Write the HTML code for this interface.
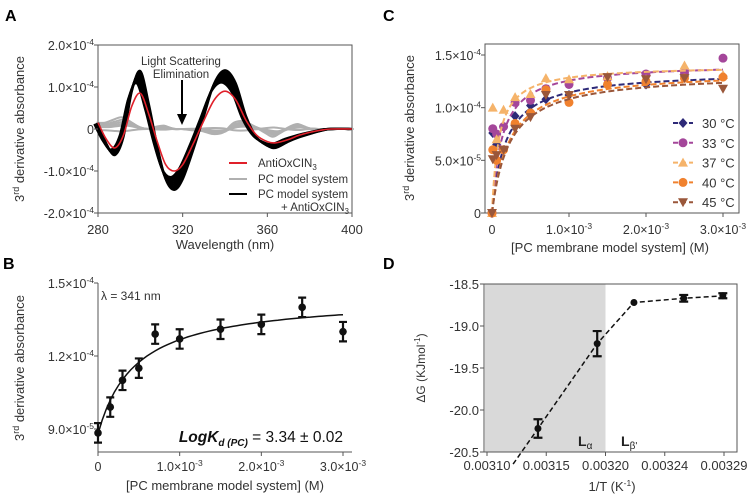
<!DOCTYPE html>
<html><head><meta charset="utf-8"><style>
body{margin:0;background:#fff;}
svg{display:block;font-family:"Liberation Sans",Arial,sans-serif;}
</style></head><body>
<svg id="fig" width="753" height="500" viewBox="0 0 753 500">
<g font-weight="bold" font-size="16">
<text x="5" y="21">A</text>
<text x="383" y="21">C</text>
<text x="3" y="269">B</text>
<text x="383" y="269">D</text>
</g>
<g id="pA"></g>
<g id="pB"></g>
<g id="pC"></g>
<g id="pD"></g>
</svg>
<script>
// ---------- Panel A data ----------
const aWl = [280,284,288,292,296,300,304,308,312,316,320,325,330,335,340,345,350,355,360,364,370,375,380,385,390,400];
const aBlack = [0.15,-0.35,-0.62,-0.2,0.9,1.38,0.6,-0.4,-1.2,-1.45,-1.2,-0.5,0.3,1.1,1.4,1.1,0.3,-0.2,-0.4,-0.45,-0.3,-0.2,-0.12,-0.05,0,0];
const aBlackScales = [1.0,0.97,0.94,0.91,0.88,0.85,0.82,0.79];
const aRed = [0.15,-0.25,-0.45,-0.15,0.55,0.85,0.35,-0.3,-0.85,-1.0,-0.85,-0.35,0.2,0.7,0.9,0.7,0.2,-0.15,-0.3,-0.33,-0.25,-0.15,-0.08,-0.03,0,0];
const aGray = [0.15,0.15,0.22,0.28,0.18,0.05,0,0.05,0.08,0,0,-0.03,-0.05,-0.12,-0.08,0.15,0.18,0.05,-0.1,-0.18,0.02,0.12,0.02,0,0,0];
const aGrayScales = [1.0,0.6,0.3,-0.2,0.8,0.45];
const aYTicks = [-2,-1,0,1,2];
const aYTickLabels = ["-2.0×10","-1.0×10","0","1.0×10","2.0×10"];
const aXTicks = [280,320,360,400];
// ---------- Panel B data ----------
const bX = [0,1.5e-4,3e-4,5e-4,7e-4,1e-3,1.5e-3,2e-3,2.5e-3,3e-3];
const bY = [8.84e-5,9.9e-5,1.1e-4,1.15e-4,1.29e-4,1.27e-4,1.31e-4,1.33e-4,1.40e-4,1.30e-4];
const bErr = [4e-6,4e-6,4e-6,4e-6,4e-6,4e-6,4e-6,4e-6,4e-6,4e-6];
const bFit = [8.8e-5,5.65e-5,4.6e-4]; // y0, Bmax, Kd
const bYTicks = [9e-5,1.2e-4,1.5e-4];
const bYTickLabels = ["9.0×10","1.2×10","1.5×10"];
const bYExp = ["-5","-4","-4"];
const xTicksM = [0,1e-3,2e-3,3e-3];
const xTickLabelsM = ["0","1.0×10","2.0×10","3.0×10"];
// ---------- Panel C data ----------
const cX = [0,1e-5,6e-5,1.5e-4,3e-4,5e-4,7e-4,1e-3,1.5e-3,2e-3,2.5e-3,3e-3];
const cNames = ["30 °C","33 °C","37 °C","40 °C","45 °C"];
const c30 = [0,7.6e-5,6.5e-5,8.2e-5,9.2e-5,1.02e-4,1.08e-4,1.12e-4,1.22e-4,1.22e-4,1.30e-4,1.30e-4];
const c33 = [0,8.0e-5,7.5e-5,8.2e-5,1.05e-4,1.07e-4,1.18e-4,1.22e-4,1.28e-4,1.32e-4,1.33e-4,1.47e-4];
const c37 = [0,1.0e-4,7.0e-5,9.8e-5,1.1e-4,1.13e-4,1.28e-4,1.27e-4,1.30e-4,1.27e-4,1.40e-4,1.31e-4];
const c40 = [0,6.0e-5,5.0e-5,6.0e-5,8.5e-5,9.5e-5,1.17e-4,1.05e-4,1.22e-4,1.25e-4,1.28e-4,1.29e-4];
const c45 = [0,5.1e-5,5.5e-5,6.0e-5,8.0e-5,9.1e-5,1.12e-4,1.12e-4,1.29e-4,1.27e-4,1.28e-4,1.18e-4];
const cBmax = [1.35e-4,1.42e-4,1.40e-4,1.35e-4,1.33e-4];
const cKd = [1.8e-4,1.3e-4,9e-5,2.2e-4,2.3e-4];
const cYTicks = [0,5e-5,1e-4,1.5e-4];
const cYTickLabels = ["0","5.0×10","1.0×10","1.5×10"];
const cYExp = ["","-5","-4","-4"];
// ---------- Panel D data ----------
const dX = [0.003143,0.003193,0.003224,0.003266,0.003299];
const dY = [-20.22,-19.21,-18.72,-18.67,-18.64];
const dErr = [0.11,0.15,0,0.04,0.03];
const dXTicks = [0.0031,0.00315,0.0032,0.00325,0.0033];
const dXTickLabels = ["0.00310","0.00315","0.00320","0.00324","0.00329"];
const dYTicks = [-20.5,-20,-19.5,-19,-18.5];
const dYTickLabels = ["-20.5","-20.0","-19.5","-19.0","-18.5"];
const dLineStartX = 0.003122;

const NS="http://www.w3.org/2000/svg";
function mk(parent,tag,attrs,text){const e=document.createElementNS(NS,tag);for(const k in attrs)e.setAttribute(k,attrs[k]);if(text!==undefined)e.textContent=text;parent.appendChild(e);return e;}
function smooth(pts){let d="M"+pts[0][0].toFixed(2)+","+pts[0][1].toFixed(2);for(let i=0;i<pts.length-1;i++){const p0=pts[Math.max(i-1,0)],p1=pts[i],p2=pts[i+1],p3=pts[Math.min(i+2,pts.length-1)];const c1=[p1[0]+(p2[0]-p0[0])/6,p1[1]+(p2[1]-p0[1])/6],c2=[p2[0]-(p3[0]-p1[0])/6,p2[1]-(p3[1]-p1[1])/6];d+="C"+c1[0].toFixed(2)+","+c1[1].toFixed(2)+" "+c2[0].toFixed(2)+","+c2[1].toFixed(2)+" "+p2[0].toFixed(2)+","+p2[1].toFixed(2);}return d;}
function lin(d0,d1,r0,r1){return v=>r0+(v-d0)/(d1-d0)*(r1-r0);}
function ytitle(g,x,y,name){const t=mk(g,"text",{x:0,y:0,"font-size":13,fill:"#333","text-anchor":"middle",transform:`translate(${x},${y}) rotate(-90)`});

mk(t,"tspan",{},"3");mk(t,"tspan",{"font-size":9,dy:-5},"rd");mk(t,"tspan",{dy:5}," derivative absorbance");return t;}
function tickLabel(g,x,y,base,exp,anchor,name){const t=mk(g,"text",{x:x,y:y,"font-size":12.5,fill:"#333","text-anchor":anchor});

mk(t,"tspan",{},base);if(exp){mk(t,"tspan",{"font-size":8.5,dy:-5},exp);}return t;}

// ================= PANEL A =================
(function(){
const g=document.getElementById("pA");
const X=lin(280,400,98,352),Y=lin(-2,2,213,45);
mk(g,"rect",{x:98,y:45,width:254,height:168,fill:"none",stroke:"#555","stroke-width":1});
aGrayScales.forEach((s,k)=>{const p=mk(g,"path",{d:smooth(aWl.map((w,i)=>[X(w+(k%3-1)*0.8),Y(aGray[i]*s)])),fill:"none",stroke:"#b0b0b0","stroke-width":2});
});
aBlackScales.forEach((s,k)=>{const p=mk(g,"path",{d:smooth(aWl.map((w,i)=>[X(w-k*0.25),Y(aBlack[i]*s)])),fill:"none",stroke:"#000","stroke-width":2.2});
});
const r=mk(g,"path",{d:smooth(aWl.map((w,i)=>[X(w),Y(aRed[i])])),fill:"none",stroke:"#e0202a","stroke-width":1.6});

aYTicks.forEach((v,i)=>{mk(g,"line",{x1:94,x2:98,y1:Y(v),y2:Y(v),stroke:"#555"});
tickLabel(g,94,Y(v)+5,aYTickLabels[i],v===0?"":"-4","end","y-tick-label");});
aXTicks.forEach(v=>{mk(g,"line",{x1:X(v),x2:X(v),y1:213,y2:217,stroke:"#555"});
const t=mk(g,"text",{x:X(v),y:234,"font-size":13,fill:"#333","text-anchor":"middle"},String(v));
});
const xt=mk(g,"text",{x:225,y:249,"font-size":13,fill:"#333","text-anchor":"middle"},"Wavelength (nm)");

ytitle(g,24,129,"y-axis-title");
const an=mk(g,"text",{x:181,y:65,"font-size":11.5,fill:"#333","text-anchor":"middle"});

mk(an,"tspan",{x:181},"Light Scattering");mk(an,"tspan",{x:181,dy:13},"Elimination");
mk(g,"line",{x1:182,x2:182,y1:80,y2:118,stroke:"#000","stroke-width":2});
mk(g,"path",{d:"M177,114 L187,114 L182,125 Z",fill:"#000"});
const leg=[["#e0202a","AntiOxCIN",163],["#b0b0b0","PC model system",179],["#000","PC model system",194]];
leg.forEach(l=>{mk(g,"line",{x1:229,x2:247,y1:l[2],y2:l[2],stroke:l[0],"stroke-width":2});
const t=mk(g,"text",{x:258,y:l[2]+4,"font-size":11.5,fill:"#333"});
mk(t,"tspan",{},l[1]);if(l[1]==="AntiOxCIN")mk(t,"tspan",{"font-size":8,dy:3},"3");});
const t2=mk(g,"text",{x:349,y:211,"font-size":11.5,fill:"#333","text-anchor":"end"});
mk(t2,"tspan",{},"+ AntiOxCIN");mk(t2,"tspan",{"font-size":8,dy:3},"3");
})();

// ================= PANEL B =================
(function(){
const g=document.getElementById("pB");
const X=lin(0,3e-3,98,343),Y=lin(9e-5,1.5e-4,429,283);
mk(g,"line",{x1:98,x2:98,y1:283,y2:452,stroke:"#555"});
mk(g,"line",{x1:98,x2:352,y1:452,y2:452,stroke:"#555"});
bYTicks.forEach((v,i)=>{mk(g,"line",{x1:94,x2:98,y1:Y(v),y2:Y(v),stroke:"#555"});tickLabel(g,94,Y(v)+5,bYTickLabels[i],bYExp[i],"end","y-tick-label");});
xTicksM.forEach((v,i)=>{mk(g,"line",{x1:X(v),x2:X(v),y1:452,y2:456,stroke:"#555"});tickLabel(g,X(v),471,xTickLabelsM[i],i?"-3":"","middle","x-tick-label");});
const xt=mk(g,"text",{x:225,y:490,"font-size":13,fill:"#333","text-anchor":"middle"},"[PC membrane model system] (M)");

ytitle(g,24,368,"y-axis-title");
const pts=[];for(let i=0;i<=60;i++){const x=3e-3*i/60;pts.push([X(x),Y(bFit[0]+bFit[1]*x/(bFit[2]+x))]);}
const f=mk(g,"path",{d:"M"+pts.map(p=>p[0].toFixed(1)+","+p[1].toFixed(1)).join("L"),fill:"none",stroke:"#111","stroke-width":1.5});

bX.forEach((x,i)=>{const cx=X(x),y1=Y(bY[i]+bErr[i]),y2=Y(bY[i]-bErr[i]);
mk(g,"path",{d:`M${cx},${y1}V${y2}M${cx-4},${y1}H${cx+4}M${cx-4},${y2}H${cx+4}`,stroke:"#111","stroke-width":2.2,fill:"none"});
const c=mk(g,"circle",{cx:cx,cy:Y(bY[i]),r:3.8,fill:"#111"});});
const lam=mk(g,"text",{x:101,y:300,"font-size":12,fill:"#333"},"λ = 341 nm");
const k=mk(g,"text",{x:343,y:442,"font-size":15.5,fill:"#111","text-anchor":"end"});
mk(k,"tspan",{"font-weight":"bold","font-style":"italic"},"LogK");mk(k,"tspan",{"font-weight":"bold","font-style":"italic","font-size":10,dy:4},"d (PC)");mk(k,"tspan",{dy:-4}," = 3.34 ± 0.02");
})();

// ================= PANEL C =================
(function(){
const g=document.getElementById("pC");
const X=lin(0,3e-3,492,723),Y=lin(0,1.5e-4,213,55);
mk(g,"rect",{x:485,y:44,width:254,height:169,fill:"none",stroke:"#555"});
cYTicks.forEach((v,i)=>{mk(g,"line",{x1:481,x2:485,y1:Y(v),y2:Y(v),stroke:"#555"});tickLabel(g,481,Y(v)+5,cYTickLabels[i],cYExp[i],"end","y-tick-label");});
xTicksM.forEach((v,i)=>{mk(g,"line",{x1:X(v),x2:X(v),y1:213,y2:217,stroke:"#555"});tickLabel(g,X(v),234,xTickLabelsM[i],i?"-3":"","middle","x-tick-label");});
const xt=mk(g,"text",{x:610,y:252,"font-size":13,fill:"#333","text-anchor":"middle"},"[PC membrane model system] (M)");

ytitle(g,414,128,"y-axis-title");
const series=[c30,c33,c37,c40,c45];const cols=["#2e2a78","#a4469a","#f5b36a","#f0812e","#9a573a"];const mks=["diamond","circle","tri","circle","tridown"];
function marker(cx,cy,type,col){let e;if(type==="circle")e=mk(g,"circle",{cx:cx,cy:cy,r:4.5,fill:col});
else if(type==="diamond")e=mk(g,"path",{d:`M${cx},${cy-5}L${cx+4.5},${cy}L${cx},${cy+5}L${cx-4.5},${cy}Z`,fill:col});
else if(type==="tri")e=mk(g,"path",{d:`M${cx},${cy-5}L${cx+5},${cy+4}L${cx-5},${cy+4}Z`,fill:col});
else e=mk(g,"path",{d:`M${cx},${cy+5}L${cx+5},${cy-4}L${cx-5},${cy-4}Z`,fill:col});return e;}
series.forEach((s,k)=>{const pts=[];for(let i=0;i<=120;i++){const x=3e-3*Math.pow(i/120,2);pts.push([X(x),Y(cBmax[k]*x/(cKd[k]+x))]);}
const p=mk(g,"path",{d:"M"+pts.map(q=>q[0].toFixed(1)+","+q[1].toFixed(1)).join("L"),fill:"none",stroke:cols[k],"stroke-width":2,"stroke-dasharray":"6,3"});

cX.forEach((x,i)=>{const m=marker(X(x),Y(s[i]),mks[k],cols[k]);});
const ly=123+k*19.8;mk(g,"line",{x1:673,x2:693,y1:ly,y2:ly,stroke:cols[k],"stroke-width":2,"stroke-dasharray":"5,3"});
const lm=marker(683,ly,mks[k],cols[k]);
const t=mk(g,"text",{x:702,y:ly+5,"font-size":13,fill:"#333"},cNames[k]);});
})();

// ================= PANEL D =================
(function(){
const g=document.getElementById("pD");
const X=lin(0.0031,0.0033,487,724),Y=lin(-20.5,-18.5,452,284);
const sh=mk(g,"rect",{x:485,y:284,width:X(0.0032)-485,height:168,fill:"#d9d9d9"});
mk(g,"rect",{x:484,y:284,width:253,height:168,fill:"none",stroke:"#555"});
dYTicks.forEach((v,i)=>{mk(g,"line",{x1:480,x2:484,y1:Y(v),y2:Y(v),stroke:"#555"});
const t=mk(g,"text",{x:479,y:Y(v)+5,"font-size":13,fill:"#333","text-anchor":"end"},dYTickLabels[i]);});
dXTicks.forEach((v,i)=>{mk(g,"line",{x1:X(v),x2:X(v),y1:452,y2:456,stroke:"#555"});
const t=mk(g,"text",{x:X(v),y:470,"font-size":13,fill:"#333","text-anchor":"middle"},dXTickLabels[i]);});
const xt=mk(g,"text",{x:612,y:491,"font-size":13,fill:"#333","text-anchor":"middle"});
mk(xt,"tspan",{},"1/T (K");mk(xt,"tspan",{"font-size":8.5,dy:-5},"-1");mk(xt,"tspan",{dy:5},")");
const yt=mk(g,"text",{x:0,y:0,"font-size":12,fill:"#333","text-anchor":"middle",transform:"translate(425,368) rotate(-90)"});
mk(yt,"tspan",{},"ΔG (KJmol");mk(yt,"tspan",{"font-size":8,dy:-5},"-1");mk(yt,"tspan",{dy:5},")");
// dashed fit: extend first segment below axis
const s=(dY[1]-dY[0])/(dX[1]-dX[0]);const y0=dY[0]+s*(dLineStartX-dX[0]);
const pts=[[X(dLineStartX),Y(y0)],[X(dX[0]),Y(dY[0])],[X(dX[1]),Y(dY[1])],[X(dX[2]),Y(dY[2])],[X(dX[3]),Y(dY[3])],[X(dX[4]),Y(dY[4])]];
const l=mk(g,"path",{d:"M"+pts.map(p=>p[0].toFixed(1)+","+p[1].toFixed(1)).join("L"),fill:"none",stroke:"#111","stroke-width":1.5,"stroke-dasharray":"5,3"});

dX.forEach((x,i)=>{const cx=X(x);if(dErr[i]>0){const y1=Y(dY[i]+dErr[i]),y2=Y(dY[i]-dErr[i]);
mk(g,"path",{d:`M${cx},${y1}V${y2}M${cx-4.5},${y1}H${cx+4.5}M${cx-4.5},${y2}H${cx+4.5}`,stroke:"#111","stroke-width":2.2,fill:"none"});}
const c=mk(g,"circle",{cx:cx,cy:Y(dY[i]),r:3.5,fill:"#111"});});
const la=mk(g,"text",{x:578,y:446,"font-size":14,"font-weight":"bold",fill:"#222"});
mk(la,"tspan",{},"L");mk(la,"tspan",{"font-size":10,"font-weight":"normal",dy:3},"α");
const lb=mk(g,"text",{x:621,y:446,"font-size":14,"font-weight":"bold",fill:"#222"});
mk(lb,"tspan",{},"L");mk(lb,"tspan",{"font-size":10,"font-weight":"normal",dy:3},"β'");
})();
</script>
</body></html>
